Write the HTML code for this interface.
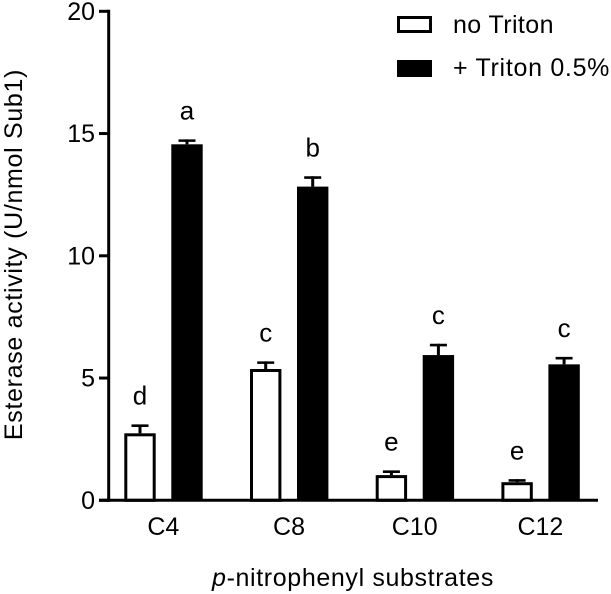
<!DOCTYPE html>
<html lang="en">
<head>
<meta charset="utf-8">
<title>Esterase activity chart</title>
<style>
html,body{margin:0;padding:0;background:#fff;}
svg{display:block;}
text{font-family:"Liberation Sans",Arial,sans-serif;fill:#000;}
</style>
</head>
<body>
<svg id="chart" width="611" height="594" viewBox="0 0 611 594" xmlns="http://www.w3.org/2000/svg">
  <rect x="0" y="0" width="611" height="594" fill="#fff"/>
  <g id="bars"></g>
  <g id="axes"></g>
  <text transform="translate(22,254.5) rotate(-90)" text-anchor="middle" font-size="25" letter-spacing="0.68">Esterase activity (U/nmol Sub1)</text>
  <text x="353" y="586" text-anchor="middle" font-size="25" letter-spacing="0.63"><tspan font-style="italic">p</tspan>-nitrophenyl substrates</text>
  <g>
    <rect x="398.5" y="17.5" width="32" height="14" fill="#fff" stroke="#000" stroke-width="3"/>
    <text x="453" y="33" font-size="25" letter-spacing="0.4">no Triton</text>
    <rect x="397" y="60" width="35" height="17" fill="#000"/>
    <text x="453" y="76" font-size="25" letter-spacing="0.7">+ Triton 0.5%</text>
  </g>
</svg>
<script>
const categories = ['C4', 'C8', 'C10', 'C12'];
const noTriton = [2.74, 5.37, 1.03, 0.74];
const noTritonErr = [0.36, 0.31, 0.19, 0.12];
const noTritonLetters = ['d', 'c', 'e', 'e'];
const plusTriton = [14.56, 12.83, 5.94, 5.56];
const plusTritonErr = [0.2, 0.42, 0.46, 0.3];
const plusTritonLetters = ['a', 'b', 'c', 'c'];
const yTicks = [0, 5, 10, 15, 20];

const NS = 'http://www.w3.org/2000/svg';
const barsGroup = document.getElementById('bars');
const axesGroup = document.getElementById('axes');

function yScale(v) { return 500.3 - v * 24.45; }
function groupLeft(i) { return 124.3 + i * 125.7; }

function make(parent, tag, attrs) {
  const el = document.createElementNS(NS, tag);
  for (const k in attrs) el.setAttribute(k, attrs[k]);
  parent.appendChild(el);
  return el;
}

function drawBar(i, value, err, letter, filled, offset, key) {
  const left = groupLeft(i) + offset;
  const w = 31.4;
  const cx = left + w / 2;
  const top = yScale(value);
  const errTop = yScale(value + err);
  const base = yScale(0);

  const stem = make(barsGroup, 'line', {x1: cx, x2: cx, y1: top, y2: errTop, stroke: '#000', 'stroke-width': 3});
  
  

  const cap = make(barsGroup, 'line', {x1: cx - 8.5, x2: cx + 8.5, y1: errTop + 1.2, y2: errTop + 1.2, stroke: '#000', 'stroke-width': 2.6});
  
  

  let bar;
  if (filled) {
    bar = make(barsGroup, 'rect', {x: left, y: top, width: w, height: base - top, fill: '#000'});
  } else {
    bar = make(barsGroup, 'rect', {x: left + 1.5, y: top + 1.5, width: w - 3, height: base - top - 1.5, fill: '#fff', stroke: '#000', 'stroke-width': 3});
  }
  
  

  const label = make(barsGroup, 'text', {x: cx, y: errTop - 20, 'text-anchor': 'middle', 'font-size': 26});
  label.textContent = letter;
  
  
}

categories.forEach(function (cat, i) {
  drawBar(i, noTriton[i], noTritonErr[i], noTritonLetters[i], false, 0, 'no-triton');
  drawBar(i, plusTriton[i], plusTritonErr[i], plusTritonLetters[i], true, 47, 'triton');

  const tickLabel = make(axesGroup, 'text', {x: groupLeft(i) + 39, y: 535, 'text-anchor': 'middle', 'font-size': 25});
  tickLabel.textContent = cat;
  
  
});

const yAxis = make(axesGroup, 'line', {x1: 108.7, x2: 108.7, y1: yScale(20) - 1.5, y2: yScale(0) + 1.5, stroke: '#000', 'stroke-width': 3});



const xAxis = make(axesGroup, 'line', {x1: 99, x2: 598, y1: yScale(0), y2: yScale(0), stroke: '#000', 'stroke-width': 3});



yTicks.forEach(function (t) {
  const tick = make(axesGroup, 'line', {x1: 99, x2: 108.7, y1: yScale(t), y2: yScale(t), stroke: '#000', 'stroke-width': 3});
  
  

  const label = make(axesGroup, 'text', {x: 95, y: yScale(t) + 8.5, 'text-anchor': 'end', 'font-size': 25});
  label.textContent = t;
  
  
});
</script>
</body>
</html>
